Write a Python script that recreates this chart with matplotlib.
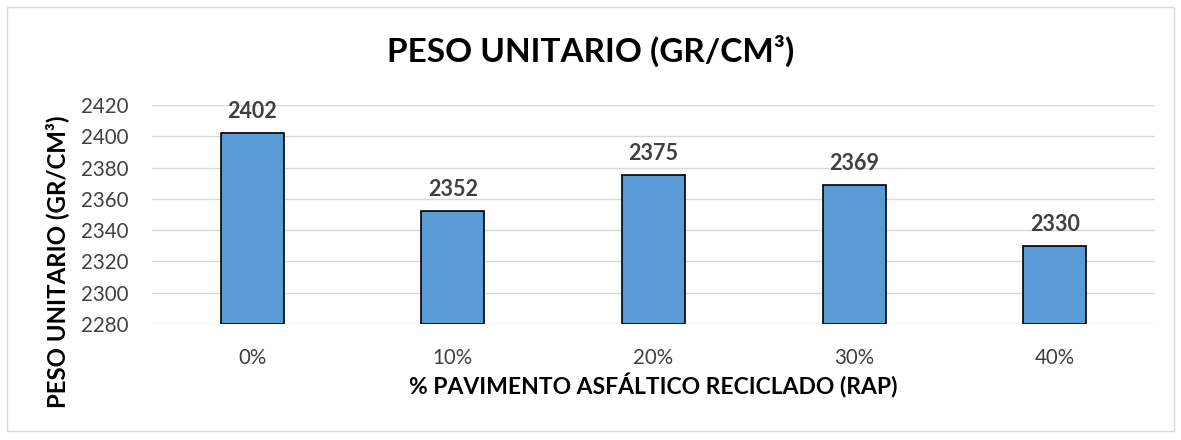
import matplotlib.pyplot as plt
from matplotlib.patches import Rectangle

categories = ["0%", "10%", "20%", "30%", "40%"]
peso = [2402, 2352, 2375, 2369, 2330]
yticks = [2280, 2300, 2320, 2340, 2360, 2380, 2400, 2420]

plt.rcParams['font.family'] = ['Lato', 'DejaVu Sans']

fig = plt.figure(figsize=(11.81, 4.4), dpi=100)
ax = fig.add_axes([0.1287, 0.2636, 0.8493, 0.4978])

x = range(len(categories))
ax.bar(x, [v - yticks[0] for v in peso], bottom=yticks[0], width=0.315,
       color='#5B9BD5', edgecolor='black', linewidth=1.2, zorder=3)
for xi, v in zip(x, peso):
    ax.text(xi, v + 7, str(v), ha='center', va='bottom', fontsize=15.5,
            fontweight='bold', color='#404040')

ax.set_ylim(yticks[0], yticks[-1])
ax.set_xlim(-0.5, len(categories) - 0.5)
ax.set_yticks(yticks)
ax.set_xticks(list(x))
ax.set_xticklabels(categories)
ax.tick_params(axis='both', length=0, labelsize=14.8, colors='#404040')
ax.tick_params(axis='y', pad=17)
ax.tick_params(axis='x', pad=17)
ax.grid(axis='y', color='#D9D9D9', linewidth=1, zorder=0)
for s in ax.spines.values():
    s.set_visible(False)

ax.set_xlabel('% PAVIMENTO ASFÁLTICO RECICLADO (RAP)', fontsize=16.5,
              fontweight='bold', labelpad=4)
ax.set_ylabel('PESO UNITARIO (GR/CM³)', fontsize=17.3, fontweight='bold')
ax.yaxis.set_label_coords(-0.083, 0.283)
fig.suptitle('PESO UNITARIO (GR/CM³)', fontsize=24, fontweight='bold', y=0.92)

fig.patches.append(Rectangle((0.006, 0.02), 0.988, 0.965, transform=fig.transFigure,
                             fill=False, edgecolor='#D9D9D9', linewidth=1))

fig.savefig('out.png', dpi=100)
